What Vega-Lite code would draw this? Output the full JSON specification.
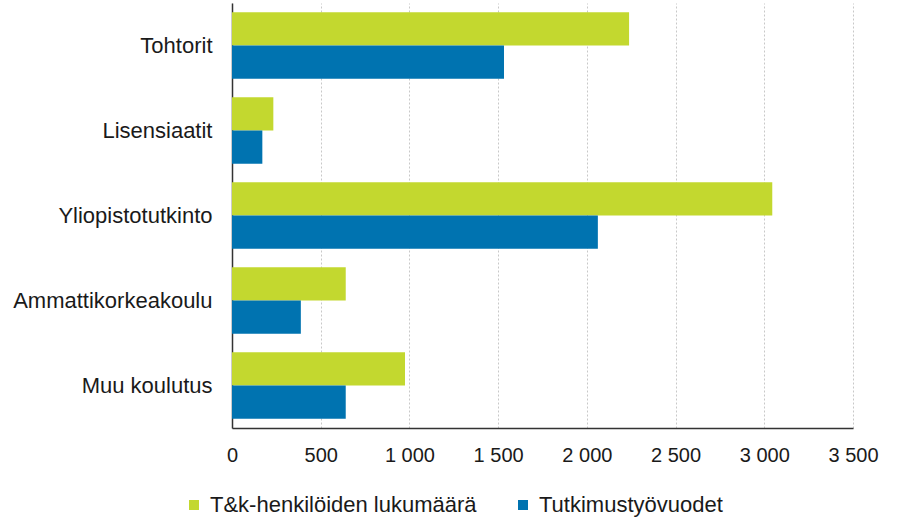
{
  "$schema": "https://vega.github.io/schema/vega-lite/v6.json",
  "width": 621,
  "height": 425,
  "autosize": {"type": "none"},
  "padding": {"left": 232, "top": 3, "right": 60, "bottom": 96},
  "background": "white",
  "config": {"view": {"stroke": null}, "font": "Liberation Sans"},
  "data": {
    "values": [
      {"koulutus": "Tohtorit", "sarja": "T&k-henkilöiden lukumäärä", "arvo": 2238},
      {"koulutus": "Tohtorit", "sarja": "Tutkimustyövuodet", "arvo": 1533},
      {"koulutus": "Lisensiaatit", "sarja": "T&k-henkilöiden lukumäärä", "arvo": 233},
      {"koulutus": "Lisensiaatit", "sarja": "Tutkimustyövuodet", "arvo": 171},
      {"koulutus": "Yliopistotutkinto", "sarja": "T&k-henkilöiden lukumäärä", "arvo": 3045},
      {"koulutus": "Yliopistotutkinto", "sarja": "Tutkimustyövuodet", "arvo": 2062},
      {"koulutus": "Ammattikorkeakoulu", "sarja": "T&k-henkilöiden lukumäärä", "arvo": 641},
      {"koulutus": "Ammattikorkeakoulu", "sarja": "Tutkimustyövuodet", "arvo": 388},
      {"koulutus": "Muu koulutus", "sarja": "T&k-henkilöiden lukumäärä", "arvo": 975},
      {"koulutus": "Muu koulutus", "sarja": "Tutkimustyövuodet", "arvo": 641}
    ]
  },
  "mark": {"type": "bar"},
  "encoding": {
    "y": {
      "field": "koulutus",
      "type": "nominal",
      "sort": ["Tohtorit", "Lisensiaatit", "Yliopistotutkinto", "Ammattikorkeakoulu", "Muu koulutus"],
      "scale": {"paddingInner": 0.22, "paddingOuter": 0.11},
      "axis": {
        "title": null,
        "ticks": false,
        "labelFontSize": 22,
        "labelPadding": 20,
        "labelLimit": 300,
        "labelColor": "#1a1a1a",
        "domainColor": "#333333",
        "domainWidth": 1.5,
        "grid": false
      }
    },
    "yOffset": {
      "field": "sarja",
      "sort": ["T&k-henkilöiden lukumäärä", "Tutkimustyövuodet"]
    },
    "x": {
      "field": "arvo",
      "type": "quantitative",
      "scale": {"domain": [0, 3500], "nice": false},
      "axis": {
        "title": null,
        "values": [0, 500, 1000, 1500, 2000, 2500, 3000, 3500],
        "labelExpr": "replace(format(datum.value, ','), ',', ' ')",
        "labelFlush": false,
        "ticks": false,
        "labelFontSize": 20,
        "labelPadding": 17,
        "labelColor": "#1a1a1a",
        "domainColor": "#333333",
        "domainWidth": 1.5,
        "gridColor": "#c8c8c8",
        "gridDash": [2, 2],
        "gridWidth": 1
      }
    },
    "color": {
      "field": "sarja",
      "type": "nominal",
      "scale": {
        "domain": ["T&k-henkilöiden lukumäärä", "Tutkimustyövuodet"],
        "range": ["#c3d82f", "#0073b0"]
      },
      "legend": {
        "title": null,
        "orient": "none",
        "legendX": -49,
        "legendY": 491,
        "padding": 0,
        "direction": "horizontal",
        "symbolType": "square",
        "symbolSize": 100,
        "symbolStrokeWidth": 0,
        "labelFontSize": 22,
        "labelColor": "#1a1a1a",
        "labelOffset": 5,
        "columnPadding": 35,
        "labelLimit": 400
      }
    }
  }
}
